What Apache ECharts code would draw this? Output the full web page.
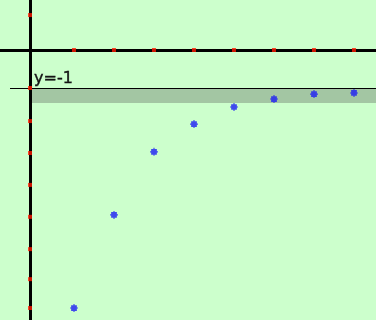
<!DOCTYPE html>
<html><head><meta charset="utf-8">
<style>html,body{margin:0;padding:0;background:#ccffcc;}#c{width:376px;height:320px;}</style>
<script src="https://cdn.jsdelivr.net/npm/echarts@6/dist/echarts.min.js"></script>
</head><body><div id="c"></div>
<script>
// n values and sequence values
var nValues = [1, 2, 3, 4, 5, 6, 7, 8];
var seqValues = [-6.79, -4.34, -2.68, -1.95, -1.5, -1.29, -1.16, -1.13];
// tick positions
var xTicks = [1, 2, 3, 4, 5, 6, 7, 8];
var yTicks = [0.92, -1, -1.87, -2.71, -3.55, -4.39, -5.24, -6.03, -6.79];
var yAxisX = -0.1;
var limitValue = -1;
var bandBottom = -1.395;
var limitLabel = 'y=-1';

var X_MIN = -0.85, X_MAX = 8.55, Y_MIN = -7.105, Y_MAX = 1.316;

var chart = echarts.init(document.getElementById('c'));
chart.setOption({
  animation: false,
  backgroundColor: '#ccffcc',
  grid: {left: 0, right: 0, top: 0, bottom: 0},
  xAxis: {type: 'value', min: X_MIN, max: X_MAX,
    axisLine: {show: true, onZero: true, lineStyle: {color: '#000', width: 3}},
    axisTick: {show: false}, axisLabel: {show: false}, splitLine: {show: false}},
  yAxis: {type: 'value', min: Y_MIN, max: Y_MAX,
    axisLine: {show: false}, axisTick: {show: false}, axisLabel: {show: false}, splitLine: {show: false}},
  series: [
    {type: 'line', data: [], z: 1, silent: true,
      markArea: {silent: true, itemStyle: {color: '#a3c6a3'},
        data: [[{coord: [-0.05, limitValue]}, {coord: [X_MAX, bandBottom]}]]},
      markLine: {silent: true, symbol: 'none', animation: false,
        label: {show: false},
        data: [
          {xAxis: yAxisX, lineStyle: {color: '#000', width: 3, type: 'solid'}},
          [{coord: [-0.6, limitValue], lineStyle: {color: '#000', width: 1, type: 'solid'}}, {coord: [X_MAX, limitValue]}]
        ]},
      markPoint: {silent: true, symbol: 'circle', symbolSize: 0,
        data: [{coord: [0, limitValue],
          label: {show: true, formatter: limitLabel, position: [0, -17], align: 'left', verticalAlign: 'top',
            fontFamily: 'DejaVu Sans', fontSize: 16, color: '#141414',
            textBorderColor: '#141414', textBorderWidth: 0.4}}]}
    },
    {type: 'scatter', z: 5, silent: true, symbol: 'rect', symbolSize: 4,
      itemStyle: {color: '#ff1a00'},
      data: xTicks.map(function (t) { return [t, 0]; }).concat(yTicks.map(function (t) { return [yAxisX, t]; }))},
    {type: 'scatter', z: 6,
      symbol: 'path://M1,1H3V0H4V1H6V3H7V4H6V6H4V7H3V6H1V4H0V3H1Z', symbolSize: 8,
      itemStyle: {color: '#1c1cf5'},
      data: nValues.map(function (n, i) { return [n, seqValues[i]]; })}
  ]
});
</script></body></html>
